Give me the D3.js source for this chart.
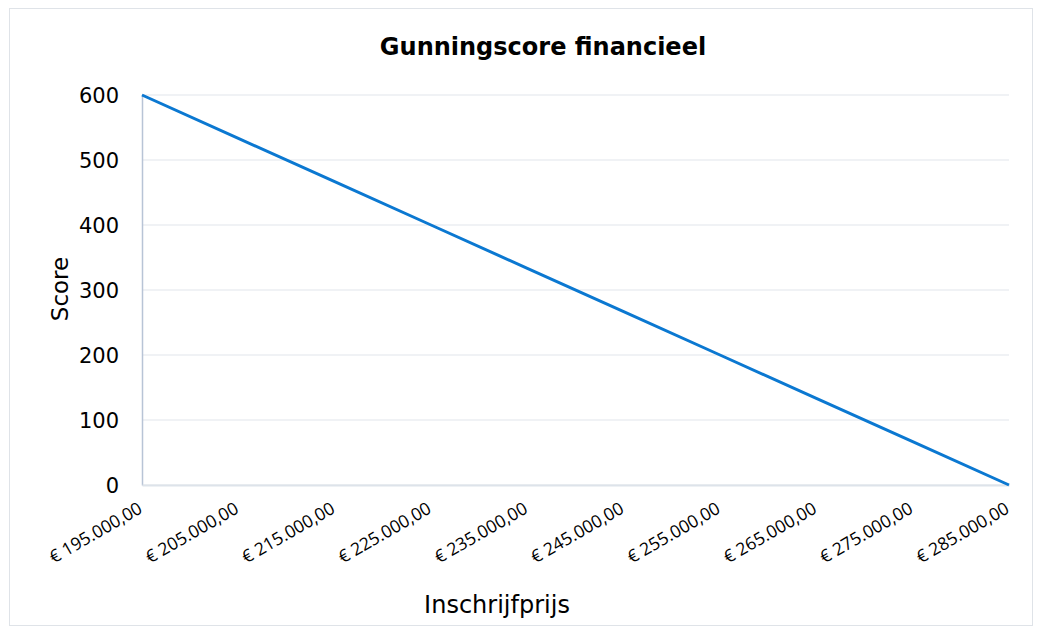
<!DOCTYPE html>
<html>
<head>
<meta charset="utf-8">
<script src="https://cdn.jsdelivr.net/npm/d3@7"></script>
<style>
  body { margin: 0; background: #fff; }
  text { font-family: Verdana, "DejaVu Sans", sans-serif; fill: #000; }
</style>
</head>
<body>
<div id="chart"></div>
<script>
// data
var prices = [195000, 205000, 215000, 225000, 235000, 245000, 255000, 265000, 275000, 285000];
var scores = [600, 533.3, 466.7, 400, 333.3, 266.7, 200, 133.3, 66.7, 0];
var yTicks = [0, 100, 200, 300, 400, 500, 600];

var W = 1042, H = 632;
var margin = { top: 95, right: 33, bottom: 147, left: 142 },
    width = W - margin.left - margin.right,
    height = H - margin.top - margin.bottom;

var svg = d3.select("#chart")
    .append("svg")
    .attr("width", W)
    .attr("height", H);

// outer border
svg.append("rect")
    .attr("x", 9.5).attr("y", 8.5)
    .attr("width", 1023).attr("height", 617)
    .attr("fill", "#fff")
    .attr("stroke", "#dfe3e8");

svg.append("text")
    .attr("x", 543).attr("y", 55)
    .attr("text-anchor", "middle")
    .style("font-size", "24px")
    .style("font-weight", "bold")
    .text("Gunningscore financieel");

var g = svg.append("g")
    .attr("transform", "translate(" + margin.left + "," + margin.top + ")");

var fmt = function (v) {
    var s = d3.format(",.2f")(v);
    s = s.replace(/,/g, "#").replace(".", ",").replace(/#/g, ".");
    return "\u20ac " + s;
};

var x = d3.scalePoint()
    .domain(prices)
    .range([0, width]);

var y = d3.scaleLinear()
    .domain([0, 600])
    .range([height, 0]);

// gridlines
g.append("g")
    .selectAll("line")
    .data(yTicks)
    .join("line")
    .attr("x1", 0).attr("x2", width)
    .attr("y1", d => y(d)).attr("y2", d => y(d))
    .attr("stroke", "#e1e5eb")
    .attr("stroke-width", 1);

// y axis
var axisY = g.append("g")
    .call(d3.axisLeft(y).tickValues(yTicks).tickSize(0).tickPadding(23));
axisY.select(".domain").attr("stroke", "#b8c4d6").attr("stroke-width", 1.5);
axisY.selectAll("text").style("font-size", "21px").attr("dy", "0.35em");

// x axis
var axisX = g.append("g")
    .attr("transform", "translate(0," + height + ")")
    .call(d3.axisBottom(x).tickSize(0).tickPadding(0).tickFormat(fmt));
axisX.select(".domain").attr("stroke", "#dde3ea").attr("stroke-width", 2);
axisX.selectAll("text")
    .style("font-family", "'Open Sans', 'Noto Sans', sans-serif")
    .style("font-size", "17.5px")
    .attr("text-anchor", "end")
    .attr("dy", 0)
    .attr("y", 0)
    .attr("transform", "translate(1,27) rotate(-30)");

// line
var line = d3.line()
    .x((d, i) => x(prices[i]))
    .y(d => y(d));

g.append("path")
    .datum(scores)
    .attr("fill", "none")
    .attr("stroke", "#0b78d1")
    .attr("stroke-width", 3)
    .attr("d", line);

// axis titles
svg.append("text")
    .attr("transform", "translate(68,289) rotate(-90)")
    .attr("text-anchor", "middle")
    .style("font-size", "23px")
    .text("Score");

svg.append("text")
    .attr("x", 497).attr("y", 613)
    .attr("text-anchor", "middle")
    .style("font-size", "24px")
    .text("Inschrijfprijs");
</script>
</body>
</html>
